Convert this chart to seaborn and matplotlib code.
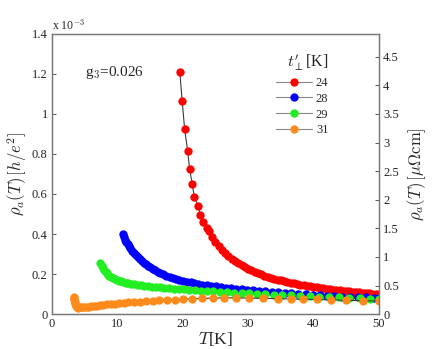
import numpy as np
import pandas as pd
import matplotlib
matplotlib.use("Agg")
import matplotlib.pyplot as plt
import seaborn as sns

# ---------------- data (rho in units of 1e-3 h/e^2) ----------------
series_labels = ["24", "28", "29", "31"]
series_colors = ["#ff0000", "#0000ff", "#22ee22", "#ff8a1c"]

T_24 = [19.57, 19.92, 20.29, 20.75, 21.06, 21.46, 21.8, 22.37, 22.7, 23.1, 23.65,
        24.0, 24.5, 25.0, 25.5, 26.0, 26.5, 27.0, 27.5, 28.0, 28.5, 29.0, 29.5,
        30.0, 30.5, 31.0, 31.5, 32.0, 32.5, 33.0, 33.5, 34.0, 34.5, 35.0, 35.5,
        36.0, 36.5, 37.0, 37.5, 38.0, 38.5, 39.0, 39.5, 40.0, 40.5, 41.0, 41.5,
        42.0, 42.5, 43.0, 43.5, 44.0, 44.5, 45.0, 45.5, 46.0, 46.5, 47.0, 47.5,
        48.0, 48.5, 49.0, 49.5, 50.0]
rho_24 = [1.207, 1.065, 0.927, 0.817, 0.725, 0.649, 0.583, 0.54, 0.497, 0.46, 0.43,
          0.414, 0.386, 0.362, 0.341, 0.322, 0.306, 0.291, 0.277, 0.265, 0.254, 0.244, 0.235,
          0.226, 0.218, 0.211, 0.204, 0.198, 0.192, 0.187, 0.181, 0.177, 0.172, 0.168, 0.164,
          0.160, 0.156, 0.153, 0.149, 0.146, 0.143, 0.140, 0.138, 0.135, 0.133, 0.130, 0.128,
          0.126, 0.124, 0.122, 0.120, 0.118, 0.116, 0.114, 0.113, 0.111, 0.109, 0.108, 0.106,
          0.105, 0.104, 0.102, 0.101, 0.100]

T_28 = [10.8, 11.0, 11.2, 11.4, 11.6, 11.8, 12.0, 12.3, 12.6, 12.9, 13.2, 13.5, 13.8,
        14.1, 14.4, 14.7, 15.0, 15.4, 15.8, 16.2, 16.6, 17.0, 17.5, 18.0, 18.5, 19.0,
        19.5, 20.0, 20.6, 21.2, 21.8, 22.4, 23.0, 23.7, 24.4, 25.1, 25.8, 26.6, 27.4,
        28.2, 29.0, 29.9, 30.8, 31.7, 32.6, 33.6, 34.6, 35.6, 36.6, 37.7, 38.8, 39.9,
        41.0, 42.1, 43.2, 44.4, 45.6, 46.8, 48.0, 49.2, 50.0]
rho_28 = [0.398, 0.385, 0.372, 0.361, 0.350, 0.340, 0.330, 0.317, 0.305, 0.294, 0.284,
          0.274, 0.265, 0.257, 0.249, 0.242, 0.236, 0.227, 0.219, 0.212, 0.205, 0.199,
          0.192, 0.186, 0.180, 0.175, 0.170, 0.166, 0.162, 0.158, 0.154, 0.150, 0.147,
          0.144, 0.141, 0.138, 0.135, 0.132, 0.129, 0.127, 0.124, 0.121, 0.118, 0.116,
          0.113, 0.110, 0.108, 0.105, 0.103, 0.100, 0.098, 0.095, 0.093, 0.091, 0.089,
          0.087, 0.085, 0.084, 0.083, 0.082, 0.081]

T_29 = [7.4, 7.6, 7.8, 8.0, 8.2, 8.4, 8.6, 8.8, 9.0, 9.3, 9.6, 9.9, 10.2, 10.5, 10.9,
        11.3, 11.7, 12.1, 12.6, 13.1, 13.6, 14.1, 14.7, 15.3, 15.9, 16.5, 17.2, 17.9,
        18.6, 19.4, 20.2, 21.0, 21.9, 22.8, 23.7, 24.7, 25.7, 26.8, 27.9, 29.0, 30.2,
        31.4, 32.6, 33.9, 35.2, 36.6, 38.0, 39.4, 40.9, 42.4, 43.9, 45.5, 47.1, 48.7, 50.0]
rho_29 = [0.255, 0.240, 0.228, 0.218, 0.210, 0.203, 0.197, 0.191, 0.186, 0.180, 0.175,
          0.171, 0.167, 0.164, 0.160, 0.157, 0.154, 0.152, 0.149, 0.146, 0.144, 0.142,
          0.139, 0.137, 0.135, 0.133, 0.131, 0.129, 0.127, 0.125, 0.123, 0.121, 0.119,
          0.117, 0.115, 0.113, 0.111, 0.109, 0.107, 0.105, 0.103, 0.101, 0.099, 0.097,
          0.095, 0.093, 0.091, 0.089, 0.087, 0.085, 0.083, 0.081, 0.079, 0.077, 0.076]

T_31 = [3.4, 3.42, 3.45, 3.5, 3.55, 3.62, 3.7, 3.8, 3.9, 4.0, 4.3, 4.6, 4.9, 5.3, 5.6,
        6.0, 6.4, 6.9, 7.3, 7.8, 8.4, 9.0, 9.6, 10.3, 11.0, 11.7, 12.6, 13.4, 14.4,
        15.4, 16.4, 17.6, 18.8, 20.1, 21.5, 23.0, 24.6, 26.3, 28.1, 30.1, 32.3, 34.5,
        36.5, 38.4, 40.5, 42.7, 45.0, 47.5, 50.0]
rho_31 = [0.087, 0.078, 0.068, 0.058, 0.050, 0.043, 0.038, 0.035, 0.033, 0.032, 0.033,
          0.034, 0.035, 0.036, 0.037, 0.039, 0.040, 0.042, 0.044, 0.046, 0.048, 0.050,
          0.052, 0.054, 0.056, 0.058, 0.060, 0.062, 0.064, 0.066, 0.068, 0.070, 0.072,
          0.074, 0.076, 0.078, 0.080, 0.081, 0.081, 0.080, 0.079, 0.077, 0.076, 0.074,
          0.073, 0.071, 0.069, 0.067, 0.065]

all_T = [T_24, T_28, T_29, T_31]
all_rho = [rho_24, rho_28, rho_29, rho_31]

x_ticks = [0, 10, 20, 30, 40, 50]
y_ticks = [0, 0.2, 0.4, 0.6, 0.8, 1.0, 1.2, 1.4]
y_tick_labels = ["0", "0.2", "0.4", "0.6", "0.8", "1", "1.2", "1.4"]
y2_ticks = [0, 0.5, 1, 1.5, 2, 2.5, 3, 3.5, 4, 4.5]
y2_tick_labels = ["0", "0.5", "1", "1.5", "2", "2.5", "3", "3.5", "4", "4.5"]
conv = 3.5  # muOhm cm per 1e-3 h/e^2

# ---------------- style ----------------
sns.set_style("white")
plt.rcParams["font.family"] = ["Liberation Serif", "DejaVu Serif"]
plt.rcParams["mathtext.fontset"] = "cm"
plt.rcParams["axes.edgecolor"] = "#777777"
plt.rcParams["axes.linewidth"] = 0.9

fig = plt.figure(figsize=(4.36, 3.49), dpi=100)
ax = fig.add_axes([0.119, 0.100, 0.750, 0.803])

for T, r, lab, c in zip(all_T, all_rho, series_labels, series_colors):
    df = pd.DataFrame({"T": T, "rho": r})
    sns.lineplot(data=df, x="T", y="rho", ax=ax, sort=False, estimator=None,
                 color="#3a3a3a", lw=0.8, marker="o", markersize=6.0,
                 markerfacecolor=c, mec=c, mew=0.0, label=lab)

ax.set_xlim(0, 50)
ax.set_ylim(0, 1.4)
ax.set_xticks(x_ticks)
ax.set_xticklabels([str(v) for v in x_ticks])
ax.set_yticks(y_ticks)
ax.set_yticklabels(y_tick_labels)
ax.tick_params(direction="in", length=3, width=0.7, labelsize=9,
               colors="#555555", labelcolor="#222222", pad=3)
ax.set_xlabel(r"$T$[K]", fontsize=12.5, labelpad=0)
ax.set_ylabel(r"$\rho_a(T)\,[h/e^2]$", fontsize=12, labelpad=2)

ax2 = ax.twinx()
ax2.set_ylim(0, 1.4 * conv)
ax2.set_yticks(y2_ticks)
ax2.set_yticklabels(y2_tick_labels)
ax2.tick_params(direction="in", length=3, width=0.7, labelsize=9,
                colors="#555555", labelcolor="#222222", pad=3)
ax2.set_ylabel(r"$\rho_a(T)\,[\mu\Omega\mathrm{cm}]$", fontsize=12, labelpad=5)
for a in (ax, ax2):
    for s in a.spines.values():
        s.set_color("#777777")
        s.set_linewidth(0.9)

ax.text(5.0, 1.205, r"g$_3$=0.026", fontsize=11, ha="left", va="center")
fig.text(52 / 436, 1 - 25 / 349, r"x 10$^{-3}$", fontsize=8.5, ha="left", va="center")

leg = ax.legend(loc="upper left", bbox_to_anchor=(0.685, 0.935), frameon=False,
                title=r"$t_{\perp}'$[K]", fontsize=9, title_fontsize=11.5,
                handlelength=2.9, handletextpad=0.3, labelspacing=0.3,
                borderpad=0, borderaxespad=0, alignment="right")
for h in leg.get_lines():
    h.set_color("#888888")

fig.savefig("out.png", dpi=100)
